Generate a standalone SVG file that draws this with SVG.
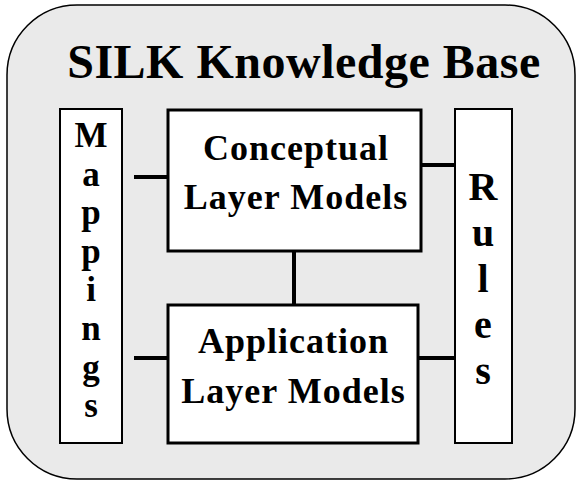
<svg xmlns="http://www.w3.org/2000/svg" width="578" height="482" viewBox="0 0 578 482">
<style>
text { font-family: "Liberation Serif", "Times New Roman", serif; font-weight: bold; fill: #000; text-anchor: middle; }
.box { fill: #fff; stroke: #000; }
.conn line { stroke: #000; stroke-width: 4; }
.t36 { font-size: 36px; letter-spacing: 1px; }
.vm { font-size: 35px; }
.vr { font-size: 40px; }
</style>
<rect id="kb" x="7" y="5" width="568" height="474" rx="70" ry="70" fill="#eaeaea" stroke="#000" stroke-width="1.5"/>
<text id="title" x="304" y="78" style="font-size:48px;letter-spacing:0.5px">SILK Knowledge Base</text>
<g class="conn">
<line x1="134" y1="177" x2="168" y2="177"/>
<line x1="421" y1="165" x2="455" y2="165"/>
<line x1="134" y1="358" x2="168" y2="358"/>
<line x1="418" y1="358" x2="455" y2="358"/>
<line x1="294" y1="251" x2="294" y2="305"/>
</g>
<g id="mappings">
<rect class="box" x="60" y="109" width="62" height="334" stroke-width="2"/>
<text class="vm" x="91" y="147">M</text>
<text class="vm" x="91" y="185.6">a</text>
<text class="vm" x="91" y="224">p</text>
<text class="vm" x="91" y="263">p</text>
<text class="vm" x="91" y="301">i</text>
<text class="vm" x="91" y="340">n</text>
<text class="vm" x="91" y="379">g</text>
<text class="vm" x="91" y="417">s</text>
</g>
<g id="rules">
<rect class="box" x="455" y="109" width="57" height="334" stroke-width="2"/>
<text class="vr" x="483" y="200">R</text>
<text class="vr" x="483" y="246">u</text>
<text class="vr" x="483" y="292">l</text>
<text class="vr" x="483" y="338">e</text>
<text class="vr" x="483" y="384">s</text>
</g>
<g id="conceptual">
<rect class="box" x="168" y="110" width="253" height="141" stroke-width="3"/>
<text class="t36" x="296" y="160">Conceptual</text>
<text class="t36" x="296" y="209">Layer Models</text>
</g>
<g id="application">
<rect class="box" x="168" y="305" width="250" height="138" stroke-width="3"/>
<text class="t36" x="293.5" y="353">Application</text>
<text class="t36" x="293.5" y="403">Layer Models</text>
</g>
</svg>
